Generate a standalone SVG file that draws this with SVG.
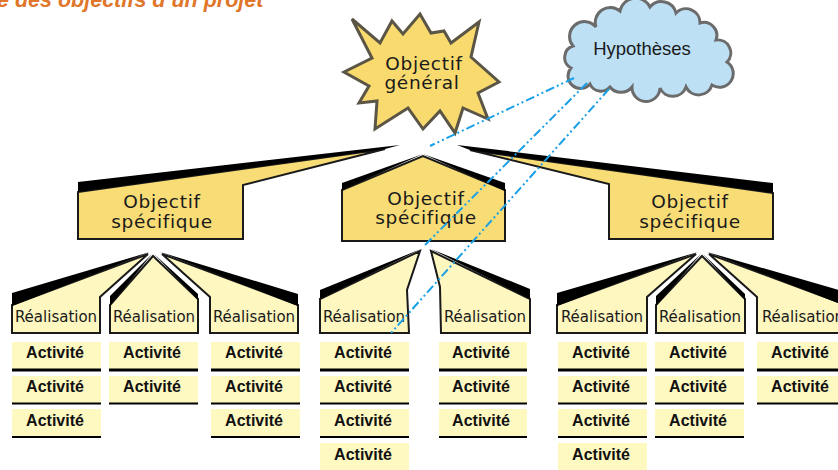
<svg xmlns="http://www.w3.org/2000/svg" width="838" height="470" viewBox="0 0 838 470">
<defs>
<style>
.obj{fill:#f8dc76;stroke:#1a1a1a;stroke-width:2;stroke-linejoin:miter}
.real{fill:#fef7c0;stroke:#1a1a1a;stroke-width:2;stroke-linejoin:miter}
.blk{fill:#000}
.act{fill:#fef8c1}
.l1{stroke:#000;stroke-width:3}
.l2{stroke:#000;stroke-width:2}
.tobj{font-family:"DejaVu Sans",Verdana,sans-serif;font-size:18.5px;letter-spacing:0.7px;fill:#1a1a1a;text-anchor:middle}
.treal{font-family:"DejaVu Sans",Verdana,sans-serif;font-size:15px;fill:#1a1a1a;text-anchor:middle}
.tact{font-family:"Liberation Sans",Arial,sans-serif;font-weight:bold;font-size:16px;fill:#111;text-anchor:middle}
.hyp{stroke:#1aa0e6;stroke-width:2;fill:none;stroke-dasharray:9 3 2 3 2 3}
</style>
</defs>
<rect width="838" height="470" fill="#fff"/>
<text x="-3" y="7" font-family="Liberation Sans, Arial, sans-serif" font-size="21.5" font-weight="bold" font-style="italic" fill="#e0762a">e des objectifs d’un projet</text>

<g id="objectif-general">
<polygon points="352,19 380,43 392,21 403,34 420,14 431,33 444,31 451,43 479,22 471,57 499,82 478,93 488,119 463,108 455,133 440,111 423,129 408,108 375,129 377,101 359,103 369,86 344,72 372,58" fill="#f9da6e" stroke="#5b5545" stroke-width="3" stroke-linejoin="miter"/>
<text class="tobj" x="424" y="70">Objectif</text>
<text class="tobj" x="422" y="89">général</text>
</g>

<g id="hypotheses">
<path d="M590,84 A12 12 0 0 1 571,68 A12 12 0 0 1 573,46 A14 14 0 0 1 596,27 A15 15 0 0 1 620,11 A16 16 0 0 1 650,7 A15 15 0 0 1 676,13 A14 14 0 0 1 700,23 A13 13 0 0 1 716,40 A13 13 0 0 1 727,62 A12 12 0 0 1 712,85 A14 14 0 0 1 686,87 A14 14 0 0 1 660,88 A14 14 0 0 1 632,87 A14 14 0 0 1 610,87 A12 12 0 0 1 590,84 Z" fill="#bde0f5" stroke="#6b6b6b" stroke-width="3"/>
<text x="642" y="55" font-family="Liberation Sans, Arial, sans-serif" font-size="18.5" fill="#1a1a1a" text-anchor="middle">Hypothèses</text>
</g>

<g id="objectif-specifique-1">
<polygon class="obj" points="78,192 385,149 243,185 243,239 78,239"/>
<polygon class="blk" points="78,182 400,145 385,149 78,192"/>
<text class="tobj" x="162" y="208">Objectif</text>
<text class="tobj" x="162" y="228">spécifique</text>
</g>

<g id="objectif-specifique-2">
<polygon class="obj" points="342,190 423,156 505,190 505,241 342,241"/>
<polygon class="blk" points="342,183 423,154 342,190"/>
<polygon class="blk" points="423,154 505,183 505,191"/>
<text class="tobj" x="426" y="205">Objectif</text>
<text class="tobj" x="426" y="224">spécifique</text>
</g>

<g id="objectif-specifique-3">
<polygon class="obj" points="470,150 773,193 773,239 609,239 609,184"/>
<polygon class="blk" points="457,145 773,183 773,193 470,150"/>
<text class="tobj" x="690" y="208">Objectif</text>
<text class="tobj" x="690" y="228">spécifique</text>
</g>

<g id="realisation-1">
<polygon class="real" points="12,305 148,254 100,297 100,333 12,333"/>
<polygon class="blk" points="12,293 150,252 12,306"/>
<text class="treal" x="56" y="322">Réalisation</text>
</g>
<g id="realisation-2">
<polygon class="real" points="110,305 153,256 198,299 198,333 110,333"/>
<polygon class="blk" points="110,296 152,254 110,306"/>
<polygon class="blk" points="154,254 198,294 198,300"/>
<text class="treal" x="154" y="322">Réalisation</text>
</g>
<g id="realisation-3">
<polygon class="real" points="162,254 298,305 298,333 210,333 210,297"/>
<polygon class="blk" points="160,252 298,294 298,306"/>
<text class="treal" x="254" y="322">Réalisation</text>
</g>
<g id="realisation-4">
<polygon class="real" points="320,299 420,251 407,290 409,333 320,333"/>
<polygon class="blk" points="320,290 421,249 320,299"/>
<text class="treal" x="364" y="322">Réalisation</text>
</g>
<g id="realisation-5">
<polygon class="real" points="431,251 530,299 530,333 441,333 440,287"/>
<polygon class="blk" points="431,249 530,289 530,299"/>
<text class="treal" x="485" y="322">Réalisation</text>
</g>
<g id="realisation-6">
<polygon class="real" points="557,305 696,254 647,297 647,333 557,333"/>
<polygon class="blk" points="557,293 698,252 557,306"/>
<text class="treal" x="602" y="322">Réalisation</text>
</g>
<g id="realisation-7">
<polygon class="real" points="656,305 702,256 745,299 745,333 656,333"/>
<polygon class="blk" points="656,296 701,254 656,306"/>
<polygon class="blk" points="703,254 745,294 745,300"/>
<text class="treal" x="700" y="322">Réalisation</text>
</g>
<g id="realisation-8">
<polygon class="real" points="709,254 846,305 846,333 757,333 757,297"/>
<polygon class="blk" points="707,252 846,292 846,306"/>
<text class="treal" x="803" y="322">Réalisation</text>
</g>

<g id="activites-1">
<rect class="act" x="12" y="342" width="89" height="27"/><line class="l1" x1="12" y1="370" x2="101" y2="370"/><text class="tact" x="55" y="358">Activité</text>
<rect class="act" x="12" y="376" width="89" height="27"/><line class="l2" x1="12" y1="403.5" x2="101" y2="403.5"/><text class="tact" x="55" y="392">Activité</text>
<rect class="act" x="12" y="409" width="89" height="27"/><line class="l2" x1="12" y1="437" x2="101" y2="437"/><text class="tact" x="55" y="426">Activité</text>
</g>
<g id="activites-2">
<rect class="act" x="109" y="342" width="89" height="27"/><line class="l1" x1="109" y1="370" x2="198" y2="370"/><text class="tact" x="152" y="358">Activité</text>
<rect class="act" x="109" y="376" width="89" height="27"/><line class="l2" x1="109" y1="403.5" x2="198" y2="403.5"/><text class="tact" x="152" y="392">Activité</text>
</g>
<g id="activites-3">
<rect class="act" x="211" y="342" width="89" height="27"/><line class="l1" x1="211" y1="370" x2="300" y2="370"/><text class="tact" x="254" y="358">Activité</text>
<rect class="act" x="211" y="376" width="89" height="27"/><line class="l2" x1="211" y1="403.5" x2="300" y2="403.5"/><text class="tact" x="254" y="392">Activité</text>
<rect class="act" x="211" y="409" width="89" height="27"/><line class="l2" x1="211" y1="437" x2="300" y2="437"/><text class="tact" x="254" y="426">Activité</text>
</g>
<g id="activites-4">
<rect class="act" x="320" y="342" width="89" height="27"/><line class="l1" x1="320" y1="370" x2="409" y2="370"/><text class="tact" x="363" y="358">Activité</text>
<rect class="act" x="320" y="376" width="89" height="27"/><line class="l2" x1="320" y1="403.5" x2="409" y2="403.5"/><text class="tact" x="363" y="392">Activité</text>
<rect class="act" x="320" y="409" width="89" height="27"/><line class="l2" x1="320" y1="437" x2="409" y2="437"/><text class="tact" x="363" y="426">Activité</text>
<rect class="act" x="320" y="443" width="89" height="27"/><text class="tact" x="363" y="460">Activité</text>
</g>
<g id="activites-5">
<rect class="act" x="439" y="342" width="88" height="27"/><line class="l1" x1="439" y1="370" x2="527" y2="370"/><text class="tact" x="481" y="358">Activité</text>
<rect class="act" x="439" y="376" width="88" height="27"/><line class="l2" x1="439" y1="403.5" x2="527" y2="403.5"/><text class="tact" x="481" y="392">Activité</text>
<rect class="act" x="439" y="409" width="88" height="27"/><line class="l2" x1="439" y1="437" x2="527" y2="437"/><text class="tact" x="481" y="426">Activité</text>
</g>
<g id="activites-6">
<rect class="act" x="558" y="342" width="89" height="27"/><line class="l1" x1="558" y1="370" x2="647" y2="370"/><text class="tact" x="601" y="358">Activité</text>
<rect class="act" x="558" y="376" width="89" height="27"/><line class="l2" x1="558" y1="403.5" x2="647" y2="403.5"/><text class="tact" x="601" y="392">Activité</text>
<rect class="act" x="558" y="409" width="89" height="27"/><line class="l2" x1="558" y1="437" x2="647" y2="437"/><text class="tact" x="601" y="426">Activité</text>
<rect class="act" x="558" y="443" width="89" height="27"/><text class="tact" x="601" y="460">Activité</text>
</g>
<g id="activites-7">
<rect class="act" x="655" y="342" width="89" height="27"/><line class="l1" x1="655" y1="370" x2="744" y2="370"/><text class="tact" x="698" y="358">Activité</text>
<rect class="act" x="655" y="376" width="89" height="27"/><line class="l2" x1="655" y1="403.5" x2="744" y2="403.5"/><text class="tact" x="698" y="392">Activité</text>
<rect class="act" x="655" y="409" width="89" height="27"/><line class="l2" x1="655" y1="437" x2="744" y2="437"/><text class="tact" x="698" y="426">Activité</text>
</g>
<g id="activites-8">
<rect class="act" x="757" y="342" width="89" height="27"/><line class="l1" x1="757" y1="370" x2="846" y2="370"/><text class="tact" x="800" y="358">Activité</text>
<rect class="act" x="757" y="376" width="89" height="27"/><line class="l2" x1="757" y1="403.5" x2="846" y2="403.5"/><text class="tact" x="800" y="392">Activité</text>
</g>

<g id="connectors">
<line class="hyp" x1="574" y1="78" x2="430" y2="146"/>
<line class="hyp" x1="587" y1="83" x2="424" y2="246"/>
<line class="hyp" x1="609" y1="89" x2="391" y2="333"/>
</g>
</svg>
